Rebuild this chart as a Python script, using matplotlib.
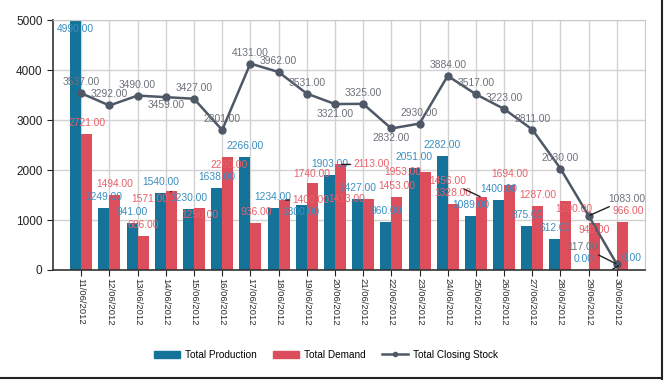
import numpy as np
import matplotlib
matplotlib.use("Agg")
import matplotlib.pyplot as plt
from matplotlib.lines import Line2D
from matplotlib.patches import Patch

plt.rcParams['font.family'] = ['Liberation Sans', 'DejaVu Sans']

# data
dates = ['11/06/2012', '12/06/2012', '13/06/2012', '14/06/2012', '15/06/2012',
         '16/06/2012', '17/06/2012', '18/06/2012', '19/06/2012', '20/06/2012',
         '21/06/2012', '22/06/2012', '23/06/2012', '24/06/2012', '25/06/2012',
         '26/06/2012', '27/06/2012', '28/06/2012', '29/06/2012', '30/06/2012']
production = [4990, 1249, 941, 1540, 1230, 1638, 2266, 1234, 1300, 1903,
              1427, 960, 2051, 2282, 1089, 1400, 875, 612, 0, 0]
demand = [2721, 1494, 686, 1571, 1250, 2260, 936, 1400, 1740, 2113,
          1413, 1453, 1953, 1328, 1456, 1694, 1287, 1390, 940, 966]
closing_stock = [3537, 3292, 3490, 3459, 3427, 2801, 4131, 3962, 3531, 3321,
                 3325, 2832, 2930, 3884, 3517, 3223, 2811, 2030, 1083, 117]

# colours
c_prod = '#15739a'
c_dem = '#dc4e5b'
c_line = '#4f5866'
c_prod_txt = '#3a8ec0'
c_dem_txt = '#e8616b'
c_line_txt = '#6d737b'

# label offsets in pixels (dx, dy of label centre from the mark), and leaders
prod_off = {0: (0, -8), 8: (0, -7), 19: (20, 12)}
prod_lead = {19}
dem_off = {3: (-22, -8), 4: (0, -7), 5: (1, -8), 7: (27, 0), 8: (0, 9),
           9: (31, 0), 10: (-22, 0), 12: (-22, 0), 14: (-34, 16),
           17: (8, -8), 18: (0, -7), 19: (6, 11)}
dem_lead = {3, 7, 9, 14}
stock_off = {3: (0, -8), 9: (0, -10), 11: (0, -10), 18: (38, 17), 19: (-34, 17)}
stock_lead = {18, 19}

fig = plt.figure(figsize=(6.65, 3.8), dpi=100)
ax = fig.add_axes([0.0797, 0.2895, 0.8903, 0.6575])

x = np.arange(len(dates))
w = 0.39
ax.bar(x - w / 2, production, w, color=c_prod, zorder=2, label='Total Production')
ax.bar(x + w / 2, demand, w, color=c_dem, zorder=2, label='Total Demand')
ax.plot(x, closing_stock, color=c_line, lw=1.8, marker='o', ms=5, zorder=3,
        label='Total Closing Stock')

ax.set_xlim(-1, 20)
ax.set_ylim(0, 5000)
ax.set_yticks(range(0, 5001, 1000))
ax.set_xticks(x)
ax.set_xticklabels(dates, rotation=-90, fontsize=6.8, color='#2a2a2a')
ax.tick_params(axis='y', labelsize=8.5, length=4, colors='#222222')
ax.tick_params(axis='x', length=4, color='#222222', pad=2)
ax.grid(True, color='#d2d2d2', lw=1, zorder=0)
ax.set_axisbelow(True)
for s in ['top', 'right']:
    ax.spines[s].set_color('#c8c8c8')
for s in ['left', 'bottom']:
    ax.spines[s].set_color('#333333')
    ax.spines[s].set_linewidth(1.2)


def put_labels(xs, vals, color, offs, leads, default):
    for i, (xi, v) in enumerate(zip(xs, vals)):
        dx, dy = offs.get(i, default)
        props = None
        if i in leads:
            props = dict(arrowstyle='-', color='#222222', lw=1,
                         shrinkA=0, shrinkB=1)
        ax.annotate(f'{v:.2f}', (xi, v), xytext=(dx, dy),
                    textcoords='offset pixels', ha='center', va='center',
                    fontsize=7.4, color=color, arrowprops=props, zorder=5,
                    annotation_clip=False)


put_labels(x - w / 2, production, c_prod_txt, prod_off, prod_lead, (0, 11))
put_labels(x + w / 2, demand, c_dem_txt, dem_off, dem_lead, (0, 11))
put_labels(x, closing_stock, c_line_txt, stock_off, stock_lead, (0, 11))

handles = [Patch(color=c_prod), Patch(color=c_dem),
           Line2D([], [], color=c_line, lw=1.8, marker='o', ms=3)]
fig.legend(handles, ['Total Production', 'Total Demand', 'Total Closing Stock'],
           loc='center', bbox_to_anchor=(0.49, 0.066), ncol=3, frameon=False,
           fontsize=7.2, handlelength=2.6, handleheight=0.7, columnspacing=1.6,
           handletextpad=0.5)

# screenshot frame on right and bottom
fig.add_artist(Line2D([0.996, 0.996], [0.003, 1], color='#222222', lw=1.5))
fig.add_artist(Line2D([0, 0.996], [0.004, 0.004], color='#222222', lw=1.5))

fig.savefig('out.png', dpi=100)
